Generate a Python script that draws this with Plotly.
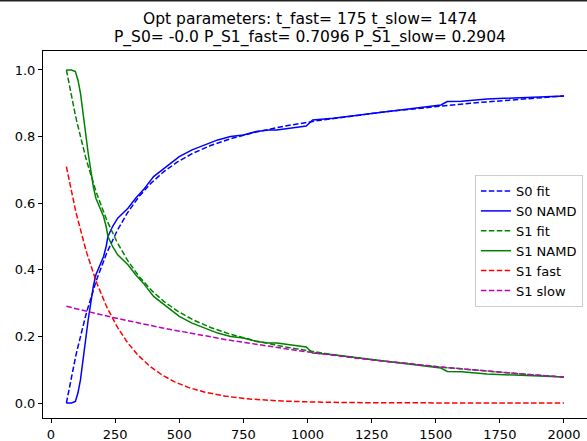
import numpy as np
import plotly.graph_objects as go

# Bi-exponential fit parameters for the S1 -> S0 decay
t_fast = 175
t_slow = 1474
p_s0 = -0.0
p_s1_fast = 0.7096
p_s1_slow = 0.2904
t_start = 60
t_end = 2000

# NAMD ground-state population (time in fs)
t_namd = [60, 70, 80, 95, 105, 115, 125, 135, 145, 155, 165, 175, 190, 205,
          215, 222, 240, 260, 280, 300, 330, 360, 400, 450, 500, 550, 600,
          650, 700, 750, 800, 850, 880, 920, 960, 995, 1020, 1100, 1200,
          1300, 1400, 1500, 1520, 1545, 1600, 1700, 1800, 1900, 2000]
s0_namd = [0.0, 0.0, 0.0, 0.005, 0.03, 0.07, 0.14, 0.19, 0.25, 0.30, 0.35,
           0.385, 0.41, 0.44, 0.47, 0.50, 0.53, 0.555, 0.57, 0.585, 0.615,
           0.64, 0.68, 0.71, 0.74, 0.76, 0.775, 0.79, 0.80, 0.805, 0.815,
           0.82, 0.82, 0.825, 0.828, 0.832, 0.85, 0.855, 0.865, 0.875,
           0.885, 0.893, 0.895, 0.905, 0.906, 0.913, 0.916, 0.92, 0.922]
# S1 holds the remaining population
s1_namd = [1.0 - v for v in s0_namd]

x_ticks = [0, 250, 500, 750, 1000, 1250, 1500, 1750, 2000]
y_ticks = [0.0, 0.2, 0.4, 0.6, 0.8, 1.0]

# Fitted model curves
t_fit = np.arange(t_start, t_end + 1, 5)
s1_fast = p_s1_fast * np.exp(-(t_fit - t_start) / t_fast)
s1_slow = p_s1_slow * np.exp(-(t_fit - t_start) / t_slow)
s1_fit = s1_fast + s1_slow
s0_fit = 1.0 - s1_fit - p_s0

dash = "5.5px,2.4px"
fig = go.Figure()
fig.add_trace(go.Scatter(x=t_fit, y=s0_fit, mode="lines", name="S0 fit",
                         line=dict(color="#0000ff", width=1.5, dash=dash)))
fig.add_trace(go.Scatter(x=t_namd, y=s0_namd, mode="lines", name="S0 NAMD",
                         line=dict(color="#0000ff", width=1.5)))
fig.add_trace(go.Scatter(x=t_fit, y=s1_fit, mode="lines", name="S1 fit",
                         line=dict(color="#008000", width=1.5, dash=dash)))
fig.add_trace(go.Scatter(x=t_namd, y=s1_namd, mode="lines", name="S1 NAMD",
                         line=dict(color="#008000", width=1.5)))
fig.add_trace(go.Scatter(x=t_fit, y=s1_fast, mode="lines", name="S1 fast",
                         line=dict(color="#ff0000", width=1.5, dash=dash)))
fig.add_trace(go.Scatter(x=t_fit, y=s1_slow, mode="lines", name="S1 slow",
                         line=dict(color="#bf00bf", width=1.5, dash=dash)))

title1 = f"Opt parameters: t_fast= {t_fast} t_slow= {t_slow}"
title2 = f"P_S0= {p_s0} P_S1_fast= {p_s1_fast} P_S1_slow= {p_s1_slow}"
font = "DejaVu Sans"
fig.add_annotation(text=title1, xref="paper", yref="paper", x=0.4899, y=1.086,
                   xanchor="center", yanchor="middle", showarrow=False,
                   font=dict(family=font, size=15.5, color="#000000"))
fig.add_annotation(text=title2, xref="paper", yref="paper", x=0.4899, y=1.036,
                   xanchor="center", yanchor="middle", showarrow=False,
                   font=dict(family=font, size=15.5, color="#000000"))

# thin dark frame edge along the top of the canvas
fig.add_shape(type="line", xref="paper", yref="paper", x0=-0.1, x1=1.0,
              y0=1.1376, y1=1.1376, line=dict(color="#222222", width=2))

fig.update_layout(
    width=587, height=441,
    margin=dict(l=43, r=0, t=51, b=23),
    paper_bgcolor="white", plot_bgcolor="white",
    font=dict(family=font, size=13, color="#000000"),
    showlegend=True,
    legend=dict(x=0.794, y=0.662, xanchor="left", yanchor="top",
                bgcolor="rgba(255,255,255,0.8)", bordercolor="#cccccc",
                borderwidth=1, font=dict(family=font, size=13),
                tracegroupgap=0),
)
fig.update_xaxes(range=[-31.2, 2089.7], tickvals=x_ticks,
                 ticktext=[str(v) for v in x_ticks],
                 showgrid=False, zeroline=False, showline=True, mirror=True,
                 linecolor="#000000", linewidth=1, ticks="outside",
                 ticklen=4, tickwidth=1, tickcolor="#000000")
fig.update_yaxes(range=[-0.045, 1.057], tickvals=y_ticks,
                 ticktext=[f"{v:.1f}" for v in y_ticks],
                 showgrid=False, zeroline=False, showline=True, mirror=False,
                 linecolor="#000000", linewidth=1, ticks="outside",
                 ticklen=4, tickwidth=1, tickcolor="#000000")

fig.write_html("out.html")
